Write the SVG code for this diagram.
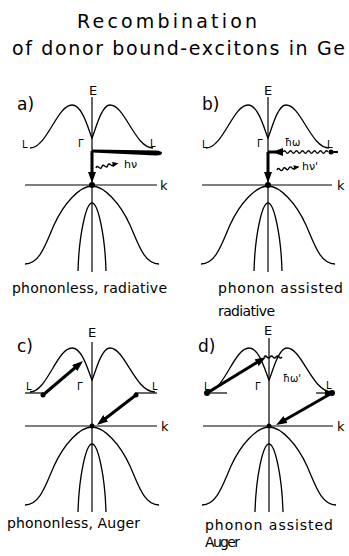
<svg xmlns="http://www.w3.org/2000/svg" xmlns:xlink="http://www.w3.org/1999/xlink" width="349" height="556" viewBox="0 0 349 556">
<style>
text{font-family:"DejaVu Sans","Liberation Sans",sans-serif;fill:#000}
.title{font-size:19px}
.cap{font-size:14px}
.lab{font-size:17px}
.ax{font-size:13px}
.sm{font-size:10px}
.band{fill:none;stroke:#000;stroke-width:1.3}
.axis{fill:none;stroke:#000;stroke-width:1.2}
.thick{fill:none;stroke:#000;stroke-width:3}
.wave{fill:none;stroke:#000;stroke-width:1.4}
.dot{fill:#000}
</style>
<defs>
<marker id="ah" markerUnits="userSpaceOnUse" markerWidth="11" markerHeight="8" refX="4" refY="4" orient="auto" viewBox="0 0 11 8">
<path d="M0,0 L11,4 L0,8 Z" fill="#000"/>
</marker>
<path id="vb" class="band" d="M-67,79 C-52,79 -46,58 -38,40 C-28,18 -12,1 0,1 C12,1 28,18 38,40 C46,58 52,79 67,79 M-14,86 C-13,50 -6,18 0,18 C6,18 13,50 14,86"/>
<path id="cb1" class="band" d="M-62,-37 C-45,-37 -35,-80 -20,-80 C-9,-80 -3,-53 0,-47 C3,-53 9,-80 18,-80 C33,-80 43,-37 61,-37"/>
<path id="cb2" class="band" d="M-62,-34 C-45,-34 -35,-78 -20,-78 C-9,-78 -3,-52 0,-46 C3,-52 9,-78 18,-78 C33,-78 43,-34 63,-34"/>
</defs>
<g id="title">
<text class="title" x="77" y="28" textLength="180" lengthAdjust="spacing">Recombination</text>
<text class="title" x="12" y="55" textLength="333" lengthAdjust="spacing">of donor bound-excitons in Ge</text>
</g>
<g id="panel-a">
<text class="lab" x="17" y="110">a)</text>
<text class="ax" x="93" y="95" text-anchor="middle">E</text>
<line class="axis" x1="92" y1="97" x2="92" y2="272"/>
<line class="axis" x1="25" y1="185" x2="157" y2="185"/>
<text class="ax" x="160" y="190">k</text>
<use xlink:href="#cb1" x="92" y="185"/>
<use xlink:href="#vb" x="92" y="185"/>
<text class="sm" x="22" y="148">L</text>
<text class="sm" x="150" y="147">L</text>
<text class="sm" x="78" y="147">Γ</text>
<path class="dot" d="M92,149.5 L156,150.5 Q162,151 162,153 Q162,155.5 156,155.5 L92,152.5 Z"/>
<line class="thick" x1="92" y1="151" x2="92" y2="176" marker-end="url(#ah)"/>
<circle class="dot" cx="92" cy="185" r="3"/>
<g transform="translate(96,168) rotate(-12)">
<path class="wave" d="M0,0 q1.5,-2.5 3,0 t3,0 t3,0 t3,0 t3,0 t3,0"/>
<path class="dot" d="M17,-2.5 L23,0 L17,2.5 Z"/>
</g>
<text class="sm" x="124" y="168" style="font-size:11px">hν</text>
<text class="cap" x="12" y="293" textLength="155" lengthAdjust="spacing">phononless, radiative</text>
</g>
<g id="panel-b">
<text class="lab" x="202" y="110">b)</text>
<text class="ax" x="268" y="95" text-anchor="middle">E</text>
<line class="axis" x1="268" y1="97" x2="268" y2="272"/>
<line class="axis" x1="202" y1="185" x2="332" y2="185"/>
<text class="ax" x="337" y="190">k</text>
<use xlink:href="#cb1" x="268" y="185"/>
<use xlink:href="#vb" x="268" y="185"/>
<text class="sm" x="202" y="148">L</text>
<text class="sm" x="327" y="148">L</text>
<text class="sm" x="257" y="147">Γ</text>
<line class="thick" x1="268" y1="152" x2="276" y2="152"/>
<path class="dot" d="M272,152 L283,148 L283,156 Z"/>
<path class="wave" d="M283,152 q1.5,-2.5 3,0 t3,0 t3,0 t3,0 t3,0 t3,0 t3,0 t3,0 t3,0 t3,0 t3,0 t3,0 t3,0 t3,0 t3,0"/>
<circle class="dot" cx="331" cy="152" r="2.5"/>
<line x1="331" y1="152" x2="338" y2="152" stroke="#000" stroke-width="2"/>
<text class="sm" x="285" y="146">ħω</text>
<line class="thick" x1="268" y1="152" x2="268" y2="176" marker-end="url(#ah)"/>
<circle class="dot" cx="268" cy="185" r="3"/>
<g transform="translate(277,170) rotate(-8)">
<path class="wave" d="M0,0 q1.5,-2.5 3,0 t3,0 t3,0 t3,0 t3,0 t3,0"/>
<path class="dot" d="M17,-2.5 L23,0 L17,2.5 Z"/>
</g>
<text class="sm" x="302" y="170" style="font-size:11px">hν'</text>
<text class="cap" x="218" y="293" textLength="125" lengthAdjust="spacing">phonon assisted</text>
<text class="cap" x="218" y="316" textLength="57" lengthAdjust="spacing">radiative</text>
</g>
<g id="panel-c">
<text class="lab" x="17" y="352">c)</text>
<text class="ax" x="92" y="337" text-anchor="middle">E</text>
<line class="axis" x1="92" y1="342" x2="92" y2="512"/>
<line class="axis" x1="25" y1="426" x2="157" y2="426"/>
<text class="ax" x="161" y="431">k</text>
<use xlink:href="#cb2" x="92" y="426"/>
<use xlink:href="#vb" x="92" y="426"/>
<text class="sm" x="26" y="390">L</text>
<text class="sm" x="152" y="390">L</text>
<text class="sm" x="77" y="390">Γ</text>
<line class="axis" x1="25" y1="393" x2="45" y2="393"/>
<line class="axis" x1="135" y1="393" x2="157" y2="393"/>
<circle class="dot" cx="43" cy="395" r="2.5"/>
<line class="thick" x1="43" y1="395" x2="77.7" y2="365.5" marker-end="url(#ah)"/>
<circle class="dot" cx="136" cy="395" r="2.5"/>
<line class="thick" x1="136" y1="395" x2="102.5" y2="420.7" marker-end="url(#ah)"/>
<circle class="dot" cx="92" cy="426" r="2.5"/>
<text class="cap" x="7" y="528" textLength="133" lengthAdjust="spacing">phononless, Auger</text>
</g>
<g id="panel-d">
<text class="lab" x="198" y="352">d)</text>
<text class="ax" x="268" y="335" text-anchor="middle">E</text>
<line class="axis" x1="269" y1="338" x2="269" y2="512"/>
<line class="axis" x1="203" y1="426" x2="333" y2="426"/>
<text class="ax" x="337" y="431">k</text>
<use xlink:href="#cb2" x="269" y="426"/>
<use xlink:href="#vb" x="269" y="426"/>
<text class="sm" x="204" y="390">L</text>
<text class="sm" x="326" y="389">L</text>
<text class="sm" x="255" y="390">Γ</text>
<line class="axis" x1="207" y1="393" x2="227" y2="393"/>
<circle class="dot" cx="207" cy="393" r="3"/>
<line class="thick" x1="207" y1="393" x2="260" y2="360.6" marker-end="url(#ah)"/>
<path class="wave" d="M264,357 q1.5,-2 3,0 t3,0 t3,0 t3,0 t3,0 t3,0"/>
<text class="sm" x="283" y="382">ħω'</text>
<line class="axis" x1="316" y1="393" x2="326" y2="393"/>
<path class="dot" d="M325,390 L331,393 L325,396 Z"/>
<circle class="dot" cx="332" cy="393" r="3"/>
<line class="thick" x1="332" y1="393" x2="282.1" y2="421.5" marker-end="url(#ah)"/>
<circle class="dot" cx="269" cy="426" r="2.5"/>
<text class="cap" x="205" y="530" textLength="128" lengthAdjust="spacing">phonon  assisted</text>
<text class="cap" x="205" y="547" textLength="35" lengthAdjust="spacing">Auger</text>
</g>
</svg>
